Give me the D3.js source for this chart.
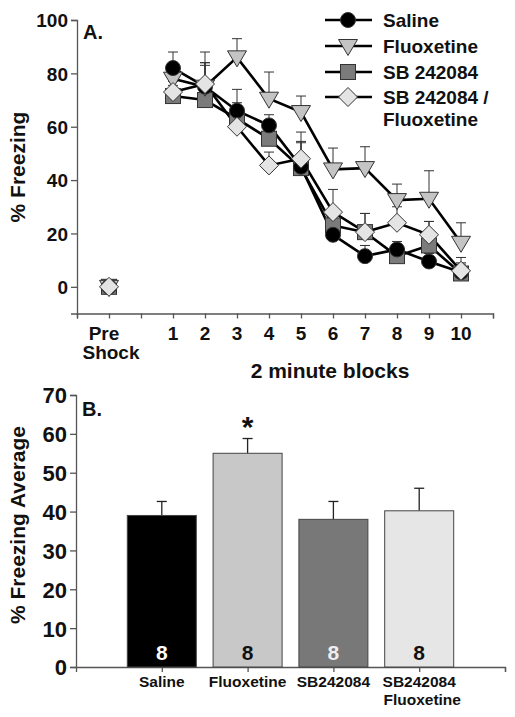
<!DOCTYPE html>
<html><head><meta charset="utf-8">
<script src="https://cdn.jsdelivr.net/npm/d3@7"></script>
<style>
body{margin:0;background:#fff;}
svg{display:block;font-family:"Liberation Sans",Arial,sans-serif;font-weight:bold;}
</style></head>
<body>
<svg id="c" width="515" height="717"></svg>
<script>
// ---------- Panel A data ----------
const blockPositions = [-1,1,2,3,4,5,6,7,8,9,10];
const blockLabels = ["Pre Shock","1","2","3","4","5","6","7","8","9","10"];
const salineLine = [0,82,75,66,60.5,45,19.5,11.5,14,9.5,5.5];
const salineErr  = [0,6,8,8,4,9,5,4,3,3,3];
const fluoxLine  = [0,78,75,86,70.5,65.5,44,44.5,32.5,33,16.5];
const fluoxErr   = [0,5,13,7,10,6,8,8,6,10.5,7.5];
const sbLine     = [0,71.5,70,63,55.5,44.5,23,20.5,11.5,15.5,5];
const sbErr      = [0,4,14,6,4,10,6,7,4,9,4];
const comboLine  = [0,73,76,60,45.5,48,28,20.5,24,19.5,6];
const comboErr   = [0,4,8,5,5,10,8.5,7,6,5,5];
const seriesNames = ["Saline","Fluoxetine","SB 242084","SB 242084 /\nFluoxetine"];
const yTicksA = [0,20,40,60,80,100];

// ---------- Panel B data ----------
const barCats = ["Saline","Fluoxetine","SB242084","SB242084\nFluoxetine"];
const barMeans = [39,55,38,40.2];
const barSem = [3.6,3.8,4.6,5.8];
const barN = [8,8,8,8];
const yTicksB = [0,10,20,30,40,50,60,70];

const svg = d3.select("#c");
const axisColor = "#555";

// ================= PANEL A =================
const xA = d3.scaleLinear().domain([-2,11]).range([77,493]);
const yA = d3.scaleLinear().domain([-10,100]).range([313.5,20]);

const gA = svg.append("g");
const yAxisA = d3.axisLeft(yA).tickValues(yTicksA).tickSize(6).tickPadding(3);
const gyA = gA.append("g").attr("transform","translate(77,0)").call(yAxisA);
const xAxisA = d3.axisBottom(xA).tickValues(d3.range(-2,12)).tickSize(5).tickFormat("");
const gxA = gA.append("g").attr("transform","translate(0,313.5)").call(xAxisA);
[gyA,gxA].forEach(g=>{
  g.selectAll("path,line").attr("stroke",axisColor).attr("stroke-width",1.3);
  g.selectAll("text").attr("font-size",19).attr("font-weight","bold").attr("fill","#111")
    .attr("font-family","'Liberation Sans',Arial,sans-serif");
});
gyA.selectAll("text").attr("dy","0.36em");

blockPositions.forEach((p,i)=>{
  if(i===0){
    gA.append("text").attr("x",xA(p)-5).attr("y",340).attr("text-anchor","middle").attr("font-size",19).attr("fill","#111").text("Pre");
    gA.append("text").attr("x",xA(p)+2).attr("y",359).attr("text-anchor","middle").attr("font-size",19).attr("fill","#111").text("Shock");
  } else {
    gA.append("text").attr("x",xA(p)).attr("y",340).attr("text-anchor","middle").attr("font-size",19).attr("fill","#111").text(blockLabels[i]);
  }
});
gA.append("text").attr("x",330).attr("y",378).attr("text-anchor","middle").attr("font-size",21).attr("fill","#111").text("2 minute blocks");
gA.append("text").attr("transform","translate(25,167) rotate(-90)").attr("text-anchor","middle").attr("font-size",21).attr("fill","#111").text("% Freezing");
gA.append("text").attr("x",83).attr("y",39).attr("font-size",20).attr("fill","#111").text("A.");

const series = [
  {name:seriesNames[2], vals:sbLine, err:sbErr, shape:"square", fill:"#7b7b7b"},
  {name:seriesNames[1], vals:fluoxLine, err:fluoxErr, shape:"tri", fill:"#c4c4c4"},
  {name:seriesNames[0], vals:salineLine, err:salineErr, shape:"circle", fill:"#000"},
  {name:seriesNames[3], vals:comboLine, err:comboErr, shape:"diamond", fill:"#e4e4e4"}
];

function drawMarker(g, shape, fill, x, y){
  let el;
  if(shape==="circle") el = g.append("circle").attr("cx",x).attr("cy",y).attr("r",7.5);
  else if(shape==="square") el = g.append("rect").attr("x",x-7.5).attr("y",y-7.5).attr("width",15).attr("height",15);
  else if(shape==="tri") el = g.append("path").attr("d",`M${x-9.5},${y-6.5}L${x+9.5},${y-6.5}L${x},${y+9.5}Z`);
  else el = g.append("path").attr("d",`M${x},${y-9.5}L${x+9.5},${y}L${x},${y+9.5}L${x-9.5},${y}Z`);
  el.attr("fill",fill).attr("stroke","#333").attr("stroke-width",1);
}

const gErr = gA.append("g");
series.forEach(s=>{
  s.vals.forEach((v,i)=>{
    if(i===0) return;
    const x = xA(blockPositions[i]);
    gErr.append("line").attr("x1",x).attr("x2",x).attr("y1",yA(v)).attr("y2",yA(v+s.err[i])).attr("stroke","#333").attr("stroke-width",1);
    gErr.append("line").attr("x1",x-5).attr("x2",x+5).attr("y1",yA(v+s.err[i])).attr("y2",yA(v+s.err[i])).attr("stroke","#333").attr("stroke-width",1);
  });
});
const lineGen = d3.line().x(d=>xA(d[0])).y(d=>yA(d[1]));
series.forEach(s=>{
  const pts = s.vals.map((v,i)=>[blockPositions[i],v]).slice(1);
  gA.append("path").attr("d",lineGen(pts)).attr("fill","none").attr("stroke","#000").attr("stroke-width",2.6);
});
series.forEach(s=>{
  s.vals.forEach((v,i)=>drawMarker(gA,s.shape,s.fill,xA(blockPositions[i]),yA(v)));
});

const legOrder = [series[2],series[1],series[0],series[3]];
const legY = [20,46,72,97];
legOrder.forEach((s,i)=>{
  const y = legY[i];
  gA.append("line").attr("x1",325).attr("x2",372).attr("y1",y).attr("y2",y).attr("stroke","#000").attr("stroke-width",2.6);
  drawMarker(gA,s.shape,s.fill,348,y);
  s.name.split("\n").forEach((t,j)=>{
    gA.append("text").attr("x",383).attr("y",y+7+j*22).attr("font-size",19).attr("fill","#111").text(t);
  });
});

// ================= PANEL B =================
const xB = d3.scaleLinear().domain([0,5]).range([76,505]);
const yB = d3.scaleLinear().domain([0,70]).range([667,395]);
const gB = svg.append("g");
const yAxisB = d3.axisLeft(yB).tickValues(yTicksB).tickSize(6).tickPadding(3);
const gyB = gB.append("g").attr("transform","translate(76,0)").call(yAxisB);
const xAxisB = d3.axisBottom(xB).tickValues([1,2,3,4,5]).tickSize(5).tickFormat("");
const gxB = gB.append("g").attr("transform","translate(0,667)").call(xAxisB);
[gyB,gxB].forEach(g=>{
  g.selectAll("path,line").attr("stroke",axisColor).attr("stroke-width",1.3);
  g.selectAll("text").attr("font-size",22).attr("font-weight","bold").attr("fill","#111")
    .attr("font-family","'Liberation Sans',Arial,sans-serif");
});
gyB.selectAll("text").attr("dy","0.36em");

const barFills = ["#000","#c8c8c8","#787878","#e6e6e6"];
const nColors = ["#fff","#111","#eee","#111"];
const barW = 69;
barCats.forEach((c,i)=>{
  const cx = xB(i+1);
  gB.append("line").attr("x1",cx).attr("x2",cx).attr("y1",yB(barMeans[i])).attr("y2",yB(barMeans[i]+barSem[i])).attr("stroke","#222").attr("stroke-width",1.3);
  gB.append("line").attr("x1",cx-5).attr("x2",cx+5).attr("y1",yB(barMeans[i]+barSem[i])).attr("y2",yB(barMeans[i]+barSem[i])).attr("stroke","#222").attr("stroke-width",1.3);
  gB.append("rect").attr("x",cx-barW/2).attr("y",yB(barMeans[i])).attr("width",barW).attr("height",yB(0)-yB(barMeans[i]))
    .attr("fill",barFills[i]).attr("stroke","#444").attr("stroke-width",1);
  gB.append("text").attr("x",cx).attr("y",660).attr("text-anchor","middle").attr("font-size",21).attr("fill",nColors[i]).text(barN[i]);
  c.split("\n").forEach((t,j)=>{
    gB.append("text").attr("x",cx + (j===1?3:0)).attr("y",687+j*18).attr("text-anchor","middle").attr("font-size",15.5).attr("fill","#111").text(t);
  });
});
gB.append("text").attr("x",xB(2)).attr("y",452).attr("text-anchor","middle").attr("font-size",30).attr("fill","#111").attr("dy","-0.5em").text("*");
gB.append("text").attr("x",82).attr("y",416).attr("font-size",20).attr("fill","#111").text("B.");
gB.append("text").attr("transform","translate(25,525) rotate(-90)").attr("text-anchor","middle").attr("font-size",21).attr("fill","#111").text("% Freezing Average");
</script>
</body></html>
